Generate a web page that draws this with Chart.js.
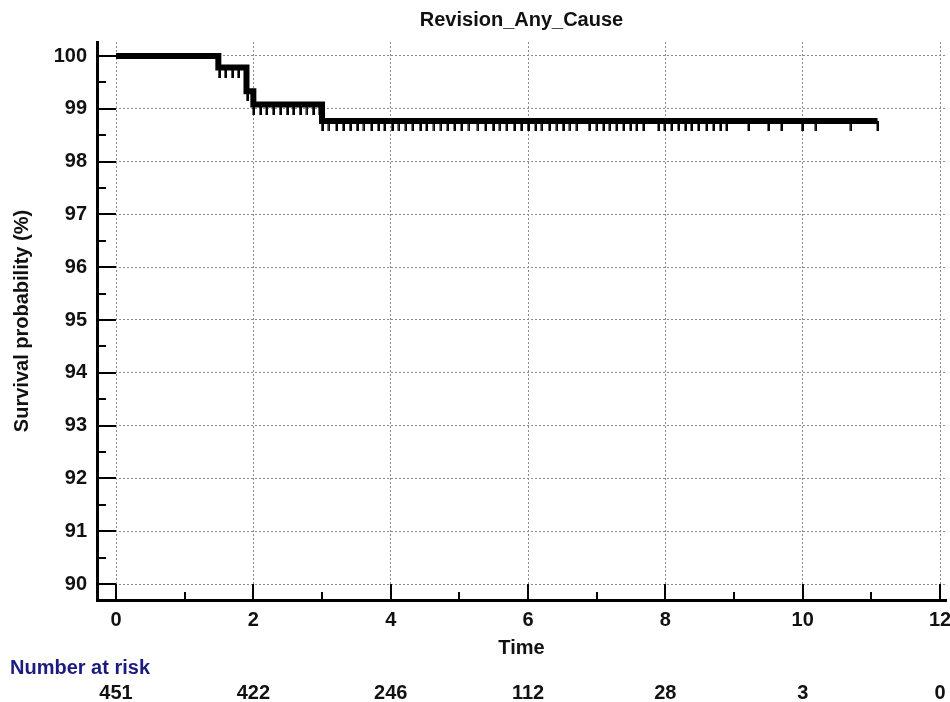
<!DOCTYPE html>
<html>
  <head>
    <script src="https://cdn.jsdelivr.net/npm/chart.js@4.4.1/dist/chart.umd.min.js"></script>
    <style>
      body { margin: 0; background: #fff; }
      #wrap { width: 950px; height: 702px; }
    </style>
  </head>

  <body>
    <div id="wrap">
      <canvas id="canvas"></canvas>
    </div>
    <script>
      // Kaplan-Meier step points (time, survival %)
      const eventTimes = [0, 1.49, 1.9, 2.0, 3.0, 11.09];
      const survival = [100, 99.78, 99.33, 99.08, 98.77, 98.77];

      // censored observations (tick marks under the curve)
      const censorTimes = [
        1.5, 1.59, 1.69, 1.78,
        1.91,
        2.0, 2.1, 2.19, 2.29, 2.39, 2.49, 2.58, 2.68, 2.78, 2.87, 2.96,
        3.0, 3.1, 3.21, 3.31, 3.41, 3.51, 3.61, 3.72, 3.82, 3.91,
        4.02, 4.12, 4.22, 4.32, 4.43, 4.52, 4.63, 4.73, 4.83, 4.93,
        5.03, 5.14, 5.27, 5.38, 5.49, 5.59, 5.69, 5.8, 5.9,
        6.0, 6.11, 6.2, 6.31, 6.42, 6.51, 6.61, 6.71, 6.89,
        7.0, 7.1, 7.19, 7.29, 7.39, 7.49, 7.58, 7.68, 7.9, 7.99,
        8.09, 8.19, 8.29, 8.38, 8.48, 8.6, 8.7, 8.8, 8.89,
        9.21, 9.5, 9.69, 9.99, 10.19, 10.7, 11.09,
      ];

      const riskTimes = [0, 2, 4, 6, 8, 10, 12];
      const riskCounts = [451, 422, 246, 112, 28, 3, 0];

      const xTicks = [0, 2, 4, 6, 8, 10, 12];
      const xMinor = [1, 3, 5, 7, 9, 11];
      const yTicks = [90, 91, 92, 93, 94, 95, 96, 97, 98, 99, 100];
      const yMinor = [90.5, 91.5, 92.5, 93.5, 94.5, 95.5, 96.5, 97.5, 98.5, 99.5];

      const FONT = '"Liberation Sans", Arial, sans-serif';

      function levelAt(t) {
        let v = survival[0];
        for (let i = 0; i < eventTimes.length; i++) {
          if (eventTimes[i] <= t) v = survival[i];
        }
        return v;
      }

      // little downward tick used as point style
      const tick = document.createElement('canvas');
      tick.width = 3;
      tick.height = 20;
      const tctx = tick.getContext('2d');
      tctx.fillStyle = '#000';
      tctx.fillRect(0.5, 10, 2.5, 10);

      const axisTicks = {
        id: 'axisTicks',
        afterDraw(chart) {
          const { ctx, chartArea, scales } = chart;
          ctx.save();
          ctx.strokeStyle = '#000';
          ctx.lineWidth = 2;
          ctx.beginPath();
          yTicks.forEach((v) => {
            const y = Math.round(scales.y.getPixelForValue(v));
            ctx.moveTo(chartArea.left, y);
            ctx.lineTo(chartArea.left + 19, y);
          });
          yMinor.forEach((v) => {
            const y = Math.round(scales.y.getPixelForValue(v));
            ctx.moveTo(chartArea.left, y);
            ctx.lineTo(chartArea.left + 9, y);
          });
          xTicks.forEach((v) => {
            const x = Math.round(scales.x.getPixelForValue(v));
            ctx.moveTo(x, chartArea.bottom);
            ctx.lineTo(x, chartArea.bottom - 16);
          });
          xMinor.forEach((v) => {
            const x = Math.round(scales.x.getPixelForValue(v));
            ctx.moveTo(x, chartArea.bottom);
            ctx.lineTo(x, chartArea.bottom - 8);
          });
          ctx.stroke();

          // number at risk table
          ctx.font = 'bold 20px ' + FONT;
          ctx.textBaseline = 'middle';
          ctx.textAlign = 'left';
          ctx.fillStyle = '#1c1c80';
          ctx.fillText('Number at risk', 10, 668);
          ctx.textAlign = 'center';
          ctx.fillStyle = '#111';
          riskTimes.forEach((t, i) => {
            ctx.fillText(String(riskCounts[i]), scales.x.getPixelForValue(t), 693);
          });
          ctx.restore();
        },
      };

      const grid = {
        color: '#8c8c8c',
        lineWidth: 1,
        drawTicks: false,
      };
      const border = { display: true, color: '#000', width: 3, dash: [2, 2] };

      new Chart(document.getElementById('canvas').getContext('2d'), {
        data: {
          datasets: [
            {
              type: 'line',
              data: eventTimes.map((t, i) => ({ x: t, y: survival[i] })),
              stepped: true,
              borderColor: '#000',
              borderWidth: 6,
              borderCapStyle: 'butt',
              borderJoinStyle: 'miter',
              pointRadius: 0,
              fill: false,
            },
            {
              type: 'scatter',
              data: censorTimes.map((t) => ({ x: t, y: levelAt(t) })),
              pointStyle: tick,
              pointRadius: 3,
              borderWidth: 0,
            },
          ],
        },
        options: {
          responsive: true,
          maintainAspectRatio: false,
          animation: false,
          events: [],
          layout: { padding: { top: 0, left: 0, right: -8, bottom: 42 } },
          scales: {
            x: {
              type: 'linear',
              min: -0.277,
              max: 12.087,
              afterBuildTicks: (s) => { s.ticks = xTicks.map((v) => ({ value: v })); },
              afterFit: (s) => { s.height = 60; s.paddingRight = 0; s.paddingLeft = 0; },
              grid: grid,
              border: border,
              ticks: {
                padding: 8,
                color: '#111',
                font: { family: FONT, size: 20, weight: 'bold' },
              },
              title: {
                display: true,
                text: 'Time',
                color: '#111',
                padding: 0,
                font: { family: FONT, size: 20, weight: 'bold' },
              },
            },
            y: {
              type: 'linear',
              min: 89.697,
              max: 100.265,
              afterBuildTicks: (s) => { s.ticks = yTicks.map((v) => ({ value: v })); },
              afterFit: (s) => { s.width = 97; s.paddingTop = 0; s.paddingBottom = 0; },
              grid: grid,
              border: border,
              ticks: {
                padding: 10,
                color: '#111',
                font: { family: FONT, size: 20, weight: 'bold' },
              },
              title: {
                display: true,
                text: 'Survival probability (%)',
                color: '#111',
                padding: { top: 10, bottom: 0 },
                font: { family: FONT, size: 20, weight: 'bold' },
              },
            },
          },
          plugins: {
            legend: { display: false },
            tooltip: { enabled: false },
            title: {
              display: true,
              text: 'Revision_Any_Cause',
              fullSize: false,
              color: '#111',
              padding: { top: 8, bottom: 10 },
              font: { family: FONT, size: 20, weight: 'bold' },
            },
          },
        },
        plugins: [axisTicks],
      });
    </script>
  </body>
</html>
